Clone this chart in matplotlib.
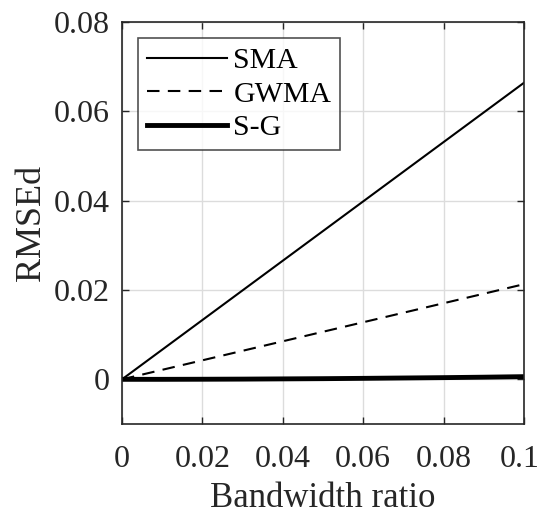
import numpy as np
import matplotlib
matplotlib.use('Agg')
import matplotlib.pyplot as plt
import matplotlib.transforms as mtransforms

# bandwidth ratio samples and RMSEd per method
bandwidth = [0.0, 0.01, 0.02, 0.03, 0.04, 0.05, 0.06, 0.07, 0.08, 0.09, 0.10]
sma = [0.0, 0.00664, 0.01328, 0.01992, 0.02656, 0.0332, 0.03984, 0.04648, 0.05312, 0.05976, 0.0664]
gwma = [0.0, 0.00213, 0.00426, 0.00639, 0.00852, 0.01065, 0.01278, 0.01491, 0.01704, 0.01917, 0.0213]
sg = [0.0, 0.0, 0.00002, 0.00005, 0.0001, 0.00015, 0.00022, 0.0003, 0.00038, 0.00048, 0.0006]

xticks = [0, 0.02, 0.04, 0.06, 0.08, 0.1]
xticklabels = ['0', '0.02', '0.04', '0.06', '0.08', '0.1']
yticks = [0, 0.02, 0.04, 0.06, 0.08]
yticklabels = ['0', '0.02', '0.04', '0.06', '0.08']

plt.rcParams['font.family'] = ['Liberation Serif', 'DejaVu Serif']

fig = plt.figure(figsize=(5.41, 5.16), dpi=100)
ax = fig.add_axes([122 / 541, 1 - 424 / 516, (524 - 122) / 541, (424 - 22) / 516])

ax.plot(bandwidth, sma, color='black', lw=1.5, ls='-', label='SMA')
ax.plot(bandwidth, gwma, color='black', lw=1.5, ls=(0, (6, 4)), label='GWMA')
ax.plot(bandwidth, sg, color='black', lw=3.5, ls='-', label='S-G')

ax.set_xlim(0, 0.1)
ax.set_ylim(-0.01, 0.08)
ax.set_xticks(xticks)
ax.set_xticklabels(xticklabels)
ax.set_yticks(yticks)
ax.set_yticklabels(yticklabels)
ax.grid(True, color='#dcdcdc', lw=1.0)
ax.set_axisbelow(True)
for s in ax.spines.values():
    s.set_linewidth(1.2)
    s.set_color('#262626')
ax.tick_params(direction='in', top=True, right=True, length=5, width=1.0,
               labelsize=23, colors='#262626')
ax.tick_params(axis='x', pad=15)
ax.tick_params(axis='y', pad=9)
ax.set_xlabel('Bandwidth ratio', fontsize=25, color='#262626', labelpad=6)
ax.set_ylabel('RMSEd', fontsize=26, color='#262626', labelpad=4)

# nudge the last x label so it stays inside the figure
last = ax.get_xticklabels()[-1]
last.set_transform(last.get_transform() + mtransforms.ScaledTranslation(-4 / 100, 0, fig.dpi_scale_trans))

leg = ax.legend(loc='upper left', fontsize=21.5, frameon=True, fancybox=False,
                edgecolor='#262626', handlelength=2.65, handletextpad=0.23,
                labelspacing=0.22, borderpad=0.3, borderaxespad=0.55)
leg.get_frame().set_linewidth(1.2)

fig.savefig('out.png', dpi=100)
